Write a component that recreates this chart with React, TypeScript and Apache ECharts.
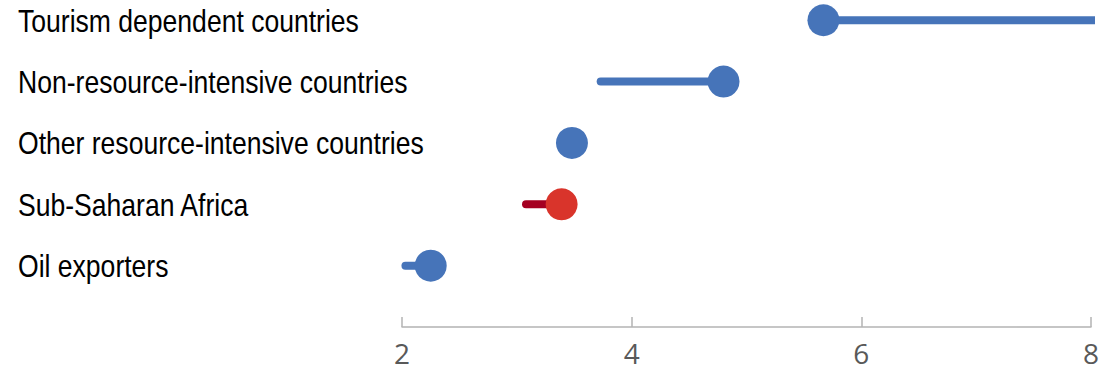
import React, { useEffect, useRef } from "react";
import * as echarts from "echarts";

// bottom to top
const categories = [
  "Oil exporters",
  "Sub-Saharan Africa",
  "Other resource-intensive countries",
  "Non-resource-intensive countries",
  "Tourism dependent countries",
];
const dotValues = [2.25, 3.39, 3.48, 4.8, 5.67];
const lineEndValues = [2.03, 3.08, 3.5, 3.73, 8.5];
const dotColors = ["#4674b9", "#d9342b", "#4674b9", "#4674b9", "#4674b9"];
const lineColors = ["#4674b9", "#a50021", "#4674b9", "#4674b9", "#4674b9"];
const xTicks = [2, 4, 6, 8];

export default function App() {
  const ref = useRef<HTMLDivElement>(null);
  useEffect(() => {
    document.body.style.margin = "0";
    if (!ref.current) return;
    const chart = echarts.init(ref.current, undefined, { renderer: "svg" });
    const lineSeries = categories.map((c, i) => ({
      type: "line",
      name: c,
      data: [
        [lineEndValues[i], i + 1],
        [dotValues[i], i + 1],
      ],
      symbol: "none",
      lineStyle: { color: lineColors[i], width: 8, cap: "round", opacity: 1 },
      clip: true,
      z: 2,
    }));
    chart.setOption({
      animation: false,
      grid: { left: 402, right: 7, top: 0, bottom: 56 },
      xAxis: {
        type: "value",
        min: xTicks[0],
        max: xTicks[xTicks.length - 1],
        interval: 2,
        axisLine: { show: true, lineStyle: { color: "#b3b3b3", width: 1.5 } },
        axisTick: { show: true, inside: true, length: 10, lineStyle: { color: "#b3b3b3", width: 1.5 } },
        splitLine: { show: false },
        axisLabel: {
          color: "#595959",
          fontSize: 28,
          fontFamily: "'Open Sans', sans-serif",
          margin: 12,
        },
      },
      yAxis: {
        type: "value",
        min: 0,
        max: 5.33,
        interval: 1,
        axisLine: { show: false },
        axisTick: { show: false },
        splitLine: { show: false },
        axisLabel: { show: false },
      },
      series: [
        ...lineSeries,
        {
          type: "scatter",
          symbolSize: 32,
          z: 3,
          data: categories.map((c, i) => ({
            value: [dotValues[i], i + 1],
            itemStyle: { color: dotColors[i], opacity: 1 },
          })),
        },
      ],
    });
    const labels = categories.map((c, i) => {
      const p = chart.convertToPixel({ gridIndex: 0 }, [xTicks[0], i + 1]) as number[];
      return {
        type: "text",
        x: 18,
        y: p[1],
        scaleX: 0.83,
        style: {
          text: c,
          fill: "#000000",
          font: "32px 'Liberation Sans', Arial, sans-serif",
          textVerticalAlign: "middle",
          textAlign: "left",
        },
      };
    });
    chart.setOption({ graphic: labels });
    return () => chart.dispose();
  }, []);
  return <div ref={ref} style={{ width: 1102, height: 383 }} />;
}
